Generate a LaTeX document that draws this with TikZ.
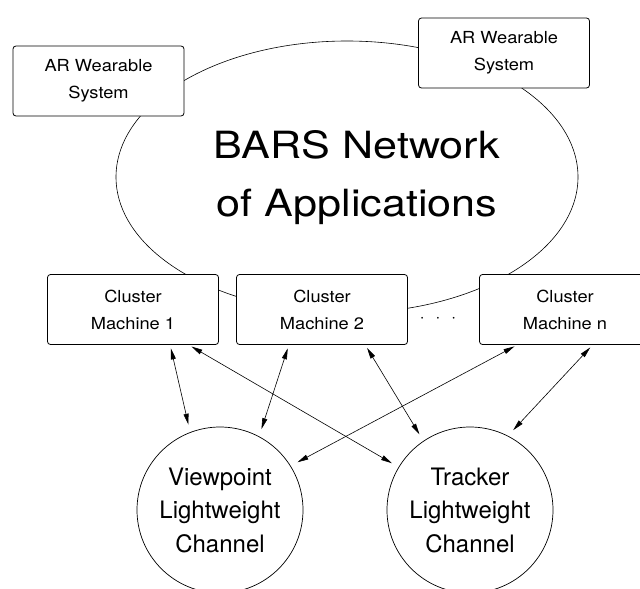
\documentclass[tikz,border=0pt]{standalone}
\usepackage{fontspec}
\setmainfont{TeX Gyre Heros}
\newfontfamily\boxfont[FakeStretch=1.1]{TeX Gyre Heros}
\newfontfamily\titlefont[FakeStretch=1.15]{TeX Gyre Heros}
\usetikzlibrary{shapes.geometric,arrows.meta}

\tikzset{
  unitbox/.style={draw=black,fill=white,line width=0.8pt,rounded corners=3pt,
    minimum width=171pt,minimum height=70pt,align=center,
    font=\boxfont\fontsize{16.6}{27}\selectfont},
  channel/.style={draw=black,fill=white,circle,line width=0.7pt,
    minimum size=166pt,align=center,font=\fontsize{24}{33.5}\selectfont},
  link/.style={{Triangle[length=11pt,width=5pt]}-{Triangle[length=11pt,width=5pt]},
    line width=0.6pt,shorten <=4pt,shorten >=8pt}
}

\begin{document}
\begin{tikzpicture}[x=1pt,y=1pt,yscale=-1,inner sep=0pt,outer sep=0pt]
  \path[use as bounding box,clip] (0,0) rectangle (640,589);
  % network of applications
  \node[ellipse,draw=black,line width=0.6pt,minimum width=462pt,
    minimum height=272pt] (bars) at (347,177) {};
  \node[font=\titlefont\fontsize{37.5}{58}\selectfont,align=center] (barstext)
    at (357,178) {BARS Network\\of Applications};
  % wearables
  \node[unitbox] (arone) at (98.5,81) {AR Wearable\\System};
  \node[unitbox] (artwo) at (504,53) {AR Wearable\\System};
  % cluster machines
  \node[unitbox] (cone) at (133,309.5) {Cluster\\Machine 1};
  \node[unitbox] (ctwo) at (322,309.5) {Cluster\\Machine 2};
  \node[unitbox] (cn) at (565,309.5) {Cluster\\Machine n};
  \node[font=\fontsize{17}{17}\selectfont] (dots) at (438,320)
    {\textperiodcentered\hspace{11pt}\textperiodcentered\hspace{11pt}\textperiodcentered};
  % lightweight channels
  \node[channel] (vp) at (220,510) {Viewpoint\\Lightweight\\Channel};
  \node[channel] (tr) at (470,510) {Tracker\\Lightweight\\Channel};
  % links
  \draw[link] ([xshift=37pt]cone.south) -- (vp.111);
  \draw[link] ([xshift=55pt]cone.south) -- (tr.149);
  \draw[link] ([xshift=-33pt]ctwo.south) -- (vp.62);
  \draw[link] ([xshift=43pt]ctwo.south) -- (tr.124);
  \draw[link] ([xshift=-47pt]cn.south) -- (vp.32);
  \draw[link] ([xshift=28pt]cn.south) -- (tr.63);
\end{tikzpicture}
\end{document}
